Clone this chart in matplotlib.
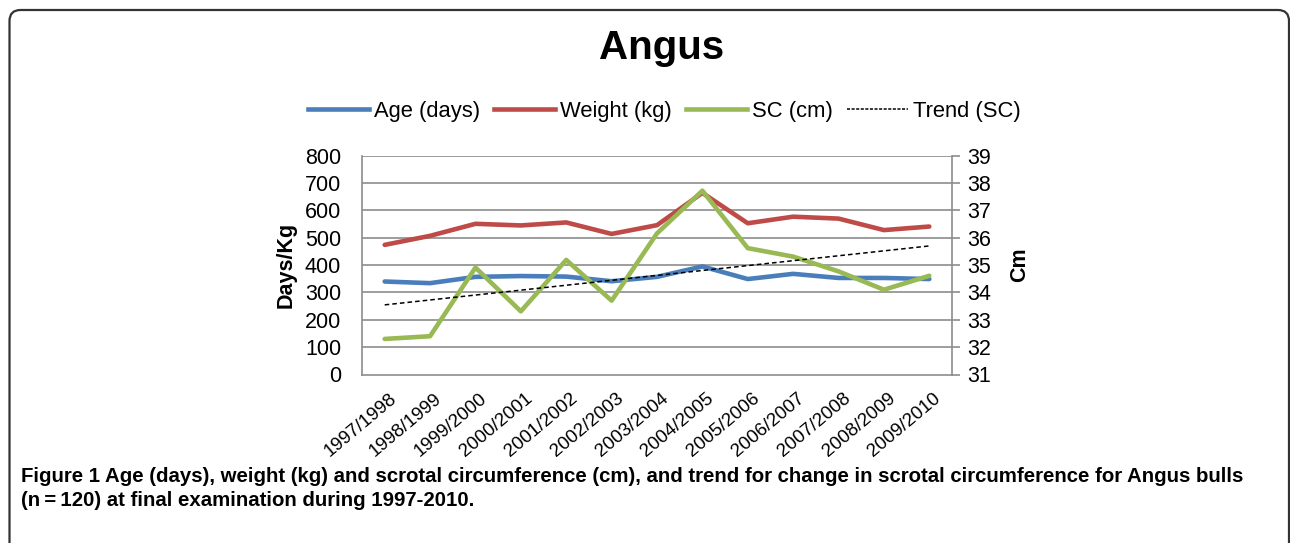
import numpy as np
import matplotlib.pyplot as plt
from matplotlib.patches import FancyBboxPatch
from matplotlib.lines import Line2D
from matplotlib.transforms import IdentityTransform, ScaledTranslation

seasons = ["1997/1998", "1998/1999", "1999/2000", "2000/2001", "2001/2002",
           "2002/2003", "2003/2004", "2004/2005", "2005/2006", "2006/2007",
           "2007/2008", "2008/2009", "2009/2010"]
age_days = [340, 334, 357, 360, 358, 341, 357, 395, 349, 368, 353, 353, 349]
weight_kg = [474, 507, 551, 545, 556, 514, 546, 664, 553, 577, 570, 528, 541]
sc_cm = [32.30, 32.40, 34.91, 33.31, 35.19, 33.70, 36.16, 37.72, 35.62,
         35.31, 34.77, 34.10, 34.61]

blue = "#4A7EBB"
red = "#BE4B48"
green = "#98B954"
grid_c = "#8C8C8C"

W, H = 1290, 543
fig = plt.figure(figsize=(W / 100, H / 100), dpi=100)
plt.rcParams['font.family'] = ['Liberation Sans', 'DejaVu Sans']

# rounded frame around the figure panel (pixel coords, origin bottom-left)
frame = FancyBboxPatch((9.5, -40), 1289 - 9.5, H - 10 + 40,
                       boxstyle="round,pad=0,rounding_size=11",
                       transform=IdentityTransform(), fill=False,
                       ec="#333333", lw=1.6)
fig.patches.append(frame)

left, right, top, bottom = 362, 952, 155.7, 374.5
ax = fig.add_axes([left / W, 1 - bottom / H, (right - left) / W, (bottom - top) / H])
ax2 = ax.twinx()

x = np.arange(len(seasons))
ax.plot(x, age_days, color=blue, lw=3.3, solid_capstyle='round', zorder=3)
ax.plot(x, weight_kg, color=red, lw=3.3, solid_capstyle='round', zorder=3)
ax2.plot(x, sc_cm, color=green, lw=3.3, solid_capstyle='round', zorder=3)
k, b = np.polyfit(x, sc_cm, 1)
ax2.plot(x, k * x + b, color="black", lw=1.1, ls=(0, (3, 2)), zorder=4)

ax.set_xlim(-0.5, len(seasons) - 0.5)
ax.set_ylim(0, 800)
ax.set_yticks(range(0, 801, 100))
ax2.set_ylim(31, 39)
ax2.set_yticks(range(31, 40))

for yv in range(100, 801, 100):
    ax.axhline(yv, color=grid_c, lw=1.2, zorder=1)

for a in (ax, ax2):
    for s in a.spines.values():
        s.set_visible(False)
ax.spines['left'].set_visible(True)
ax.spines['bottom'].set_visible(True)
ax2.spines['right'].set_visible(True)
for s in (ax.spines['left'], ax.spines['bottom'], ax2.spines['right']):
    s.set_color(grid_c)
    s.set_linewidth(1.2)

ax.tick_params(axis='y', length=0, labelsize=15.5, pad=15)
ax.tick_params(axis='x', length=0, pad=11)
ax2.tick_params(axis='y', length=6, width=1.2, color=grid_c, labelsize=15.5, pad=5)

ax.set_xticks(x)
ax.set_xticklabels(seasons, rotation=40, ha='right', va='top',
                   rotation_mode='anchor', fontsize=13.5)
shift = ScaledTranslation(4 / 100, 0, fig.dpi_scale_trans)
for lbl in ax.get_xticklabels():
    lbl.set_transform(lbl.get_transform() + shift)

ax.set_ylabel("Days/Kg", fontsize=15.5, fontweight='bold', labelpad=6)
ax2.set_ylabel("Cm", fontsize=15.5, fontweight='bold', labelpad=13)

fig.text(662 / W, 1 - 48 / H, "Angus", ha='center', va='center',
         fontsize=29, fontweight='bold')

handles = [Line2D([], [], color=blue, lw=3.3),
           Line2D([], [], color=red, lw=3.3),
           Line2D([], [], color=green, lw=3.3),
           Line2D([], [], color='black', lw=1.1, ls=(0, (2, 1)))]
fig.legend(handles, ["Age (days)", "Weight (kg)", "SC (cm)", "Trend (SC)"],
           loc='center', bbox_to_anchor=(664 / W, 1 - 111 / H), ncol=4,
           frameon=False, fontsize=15.8, handlelength=2.8, handletextpad=0.2,
           columnspacing=0.65)

cap_font = ['Liberation Sans Narrow', 'Liberation Sans']
t1 = fig.text(21 / W, 1 - 477 / H, "Figure 1", ha='left', va='center',
              fontsize=14.7, fontweight='bold', family=cap_font)
fig.canvas.draw()
bb = t1.get_window_extent()
fig.text((bb.x1 + 5) / W, 1 - 477 / H,
         "Age (days), weight (kg) and scrotal circumference (cm), and trend for change in scrotal circumference for Angus bulls",
         ha='left', va='center', fontsize=14.7, fontweight='bold', family=cap_font)
fig.text(21 / W, 1 - 501 / H, "(n\u2009=\u2009120) at final examination during 1997-2010.",
         ha='left', va='center', fontsize=14.7, fontweight='bold', family=cap_font)

fig.savefig("out.png", dpi=100)
